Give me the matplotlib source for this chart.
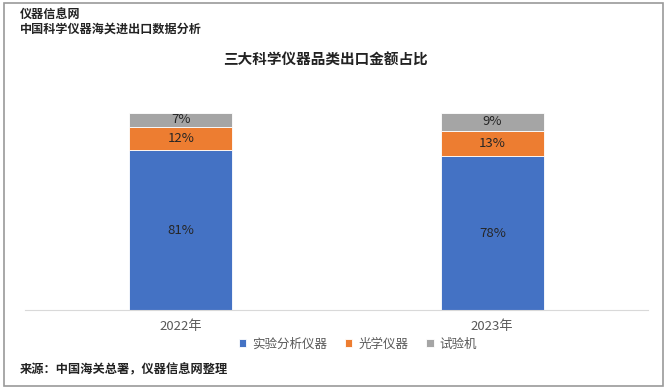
import numpy as np
import matplotlib.pyplot as plt
from matplotlib.patches import Rectangle

plt.rcParams['font.family'] = ['Noto Sans CJK SC', 'DejaVu Sans']

# data
years = ["2022年", "2023年"]
series = ["实验分析仪器", "光学仪器", "试验机"]
analysis = [81, 78]
optical = [12, 13]
testing = [7, 9]
colors = ["#4472C4", "#ED7D31", "#A5A5A5"]

W, H = 668, 392
fig = plt.figure(figsize=(W / 100, H / 100), dpi=100)

# outer frame
fig.patches.append(Rectangle((4 / W, 1 - 386 / H), 659 / W, 383 / H,
                             transform=fig.transFigure, fill=False,
                             edgecolor="#9a9a9a", linewidth=1.2))

ax = fig.add_axes([25 / W, 1 - 310 / H, 623 / W, 197 / H])
x = np.arange(len(years))
bottom = np.zeros(len(years))
for vals, name, c in zip([analysis, optical, testing], series, colors):
    bars = ax.bar(x, vals, width=0.33, bottom=bottom, color=c, label=name,
                  edgecolor="white", linewidth=0.6)
    for b, v, bt in zip(bars, vals, bottom):
        ax.text(b.get_x() + b.get_width() / 2, bt + v / 2, f"{v}%",
                ha="center", va="center", fontsize=9.5, color="#262626")
    bottom += np.array(vals)

ax.set_xlim(-0.5, 1.5)
ax.set_ylim(0, 100)
ax.set_xticks(x)
ax.set_xticklabels(years, fontsize=9.5, color="#595959")
ax.tick_params(axis="x", length=0, pad=7)
ax.set_yticks([])
for s in ["top", "right", "left"]:
    ax.spines[s].set_visible(False)
ax.spines["bottom"].set_color("#d9d9d9")
ax.spines["bottom"].set_linewidth(0.8)

fig.legend(loc="center", bbox_to_anchor=(358 / W, 1 - 344 / H), ncol=3,
           frameon=False, fontsize=9, handlelength=0.6, handleheight=0.6,
           columnspacing=1.4, handletextpad=0.5, labelcolor="#595959")

fig.text(20 / W, 1 - 14 / H, "仪器信息网", fontsize=8.7, fontweight="bold",
         va="center", color="#222222")
fig.text(20 / W, 1 - 29 / H, "中国科学仪器海关进出口数据分析", fontsize=8.7,
         fontweight="bold", va="center", color="#222222")
fig.text(325 / W, 1 - 60 / H, "三大科学仪器品类出口金额占比", fontsize=10.5,
         fontweight="bold", ha="center", va="center", color="#222222")
fig.text(20 / W, 1 - 370 / H, "来源：中国海关总署，仪器信息网整理", fontsize=8.8,
         fontweight="bold", va="center", color="#222222")

fig.savefig("out.png", dpi=100)
